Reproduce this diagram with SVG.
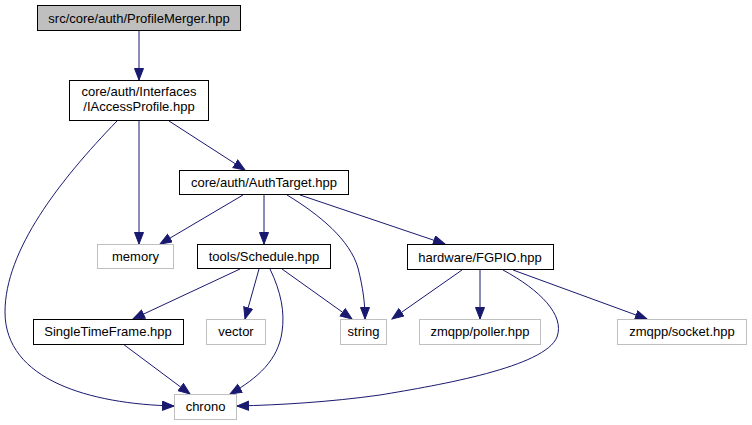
<svg xmlns="http://www.w3.org/2000/svg" width="752" height="425" viewBox="0 0 752 425">
<style>
text{font-family:"Liberation Sans",Arial,Helvetica,sans-serif;font-size:13px;fill:#000;text-anchor:middle}
.doc{fill:#fff;stroke:#000;stroke-width:1}
.root{fill:#bfbfbf;stroke:#000;stroke-width:1}
.sys{fill:#fff;stroke:#bfbfbf;stroke-width:1}
.e{fill:none;stroke:#191970;stroke-width:1;marker-end:url(#arr)}
</style>
<defs>
<marker id="arr" markerUnits="userSpaceOnUse" markerWidth="13" markerHeight="11" refX="12" refY="5" orient="auto">
<path d="M0.5,0.5 L12,5 L0.5,9.5 z" fill="#191970" stroke="#191970" stroke-width="1"/>
</marker>
</defs>
<rect width="752" height="425" fill="#fff"/>
<g id="connectors">
<path class="e" d="M139,31 L139,80"/>
<path class="e" d="M117,121 C60,180 5,250 5,312 C5,380 90,404 174,406"/>
<path class="e" d="M139,121 L139,244"/>
<path class="e" d="M169,121 L245,170"/>
<path class="e" d="M243,195 L160,244"/>
<path class="e" d="M264,195 L264,244"/>
<path class="e" d="M287,195 C320,215 350,240 358,268 C363,288 365,303 365,319"/>
<path class="e" d="M300,195 L445,244"/>
<path class="e" d="M240,269 L133,319"/>
<path class="e" d="M259,269 L245,319"/>
<path class="e" d="M270,269 C281,292 285,312 282,332 C278,360 258,378 230,394"/>
<path class="e" d="M282,269 L352,319"/>
<path class="e" d="M123,344 L190,394"/>
<path class="e" d="M462,270 L392,319"/>
<path class="e" d="M480,270 L480,319"/>
<path class="e" d="M503,270 C540,290 565,315 557,337 C545,367 440,385 380,395 C330,402 280,405 237,406"/>
<path class="e" d="M513,270 L647,319"/>
</g>
<g id="node-root"><rect class="root" x="37.5" y="5.5" width="203" height="25"/><text x="139" y="23">src/core/auth/ProfileMerger.hpp</text></g>
<g id="node-iaccessprofile"><rect class="doc" x="69.5" y="80.5" width="139" height="40"/><text x="139" y="96">core/auth/Interfaces</text><text x="139" y="111">/IAccessProfile.hpp</text></g>
<g id="node-authtarget"><rect class="doc" x="179.5" y="170.5" width="169" height="24"/><text x="264" y="187">core/auth/AuthTarget.hpp</text></g>
<g id="node-memory"><rect class="sys" x="97.5" y="244.5" width="76" height="24"/><text x="135.5" y="261">memory</text></g>
<g id="node-schedule"><rect class="doc" x="197.5" y="244.5" width="133" height="24"/><text x="264" y="261">tools/Schedule.hpp</text></g>
<g id="node-fgpio"><rect class="doc" x="407.5" y="244.5" width="146" height="25"/><text x="480" y="262">hardware/FGPIO.hpp</text></g>
<g id="node-singletimeframe"><rect class="doc" x="33.5" y="319.5" width="150" height="25"/><text x="108" y="336">SingleTimeFrame.hpp</text></g>
<g id="node-vector"><rect class="sys" x="206.5" y="319.5" width="59" height="25"/><text x="236" y="336">vector</text></g>
<g id="node-string"><rect class="sys" x="340.5" y="319.5" width="46" height="25"/><text x="363.5" y="336">string</text></g>
<g id="node-poller"><rect class="sys" x="419.5" y="319.5" width="121" height="25"/><text x="480" y="336">zmqpp/poller.hpp</text></g>
<g id="node-socket"><rect class="sys" x="617.5" y="319.5" width="129" height="25"/><text x="682" y="336">zmqpp/socket.hpp</text></g>
<g id="node-chrono"><rect class="sys" x="174.5" y="394.5" width="62" height="25"/><text x="205.5" y="411">chrono</text></g>
</svg>
